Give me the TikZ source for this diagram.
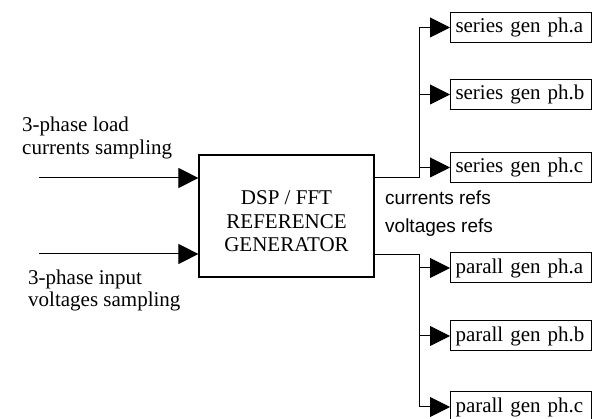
\documentclass[tikz,border=0pt]{standalone}
\usepackage{fontspec}
\setmainfont{Liberation Serif}
\newfontfamily\refsans{Liberation Sans}
\usetikzlibrary{arrows.meta}
\begin{document}
\begin{tikzpicture}[x=1pt,y=-1pt,
  wire/.style={line width=1pt},
  arr/.style={wire,-{Triangle[length=20pt,width=20pt]}},
  genbox/.style={draw,line width=1.2pt,minimum width=175pt,minimum height=122pt,inner sep=0pt},
  outbox/.style={draw,line width=1pt,anchor=west,minimum height=30pt,text width=131pt,inner xsep=5pt,inner ysep=0pt,align=left,font=\fontsize{21}{24}\selectfont},
  lbl/.style={inner sep=0pt,anchor=base west,font=\fontsize{21}{24}\selectfont},
  ctr/.style={inner sep=0pt,anchor=base,font=\fontsize{21}{24}\selectfont},
  refl/.style={inner sep=0pt,anchor=base west,font=\refsans\fontsize{19}{22}\selectfont}]
\useasboundingbox (0,0) rectangle (592,419);
\clip (0,0) rectangle (592,419);

% central block
\node[genbox] (gen) at (286.5,216) {};
\node[ctr] (g1) at (286.5,205) {DSP / FFT};
\node[ctr] (g2) at (286.5,228.5) {REFERENCE};
\node[ctr] (g3) at (286.5,252) {GENERATOR};

% output boxes
\node[outbox] (sa) at (450,27.5) {series gen ph.a};
\node[outbox] (sb) at (450,94.5) {series gen ph.b};
\node[outbox] (sc) at (450,167.5) {series gen ph.c};
\node[outbox] (pa) at (450,268) {parall gen ph.a};
\node[outbox] (pb) at (450,336) {parall gen ph.b};
\node[outbox] (pc) at (450,407) {parall gen ph.c};

% inputs
\coordinate (in1) at (39,178);
\coordinate (in2) at (39,254);
\draw[arr] (in1) -- (in1 -| gen.west);
\draw[arr] (in2) -- (in2 -| gen.west);
\node[lbl] (l1) at (22,132) {3-phase load};
\node[lbl] (l2) at (22,155) {currents sampling};
\node[lbl] (l3) at (28,285) {3-phase input};
\node[lbl] (l4) at (28,307) {voltages sampling};

% output buses
\coordinate (b1) at (419,178);
\coordinate (b2) at (419,255);
\draw[wire] (gen.east |- b1) -- (b1) -- (b1 |- sa.west);
\draw[wire] (gen.east |- b2) -- (b2) -- (b2 |- pc.west);
\foreach \n in {sa,sb,sc} \draw[arr] (b1 |- \n.west) -- (\n.west);
\foreach \n in {pa,pb,pc} \draw[arr] (b2 |- \n.west) -- (\n.west);

\node[refl] (r1) at (385,205) {currents refs};
\node[refl] (r2) at (385,233) {voltages refs};
\end{tikzpicture}
\end{document}
